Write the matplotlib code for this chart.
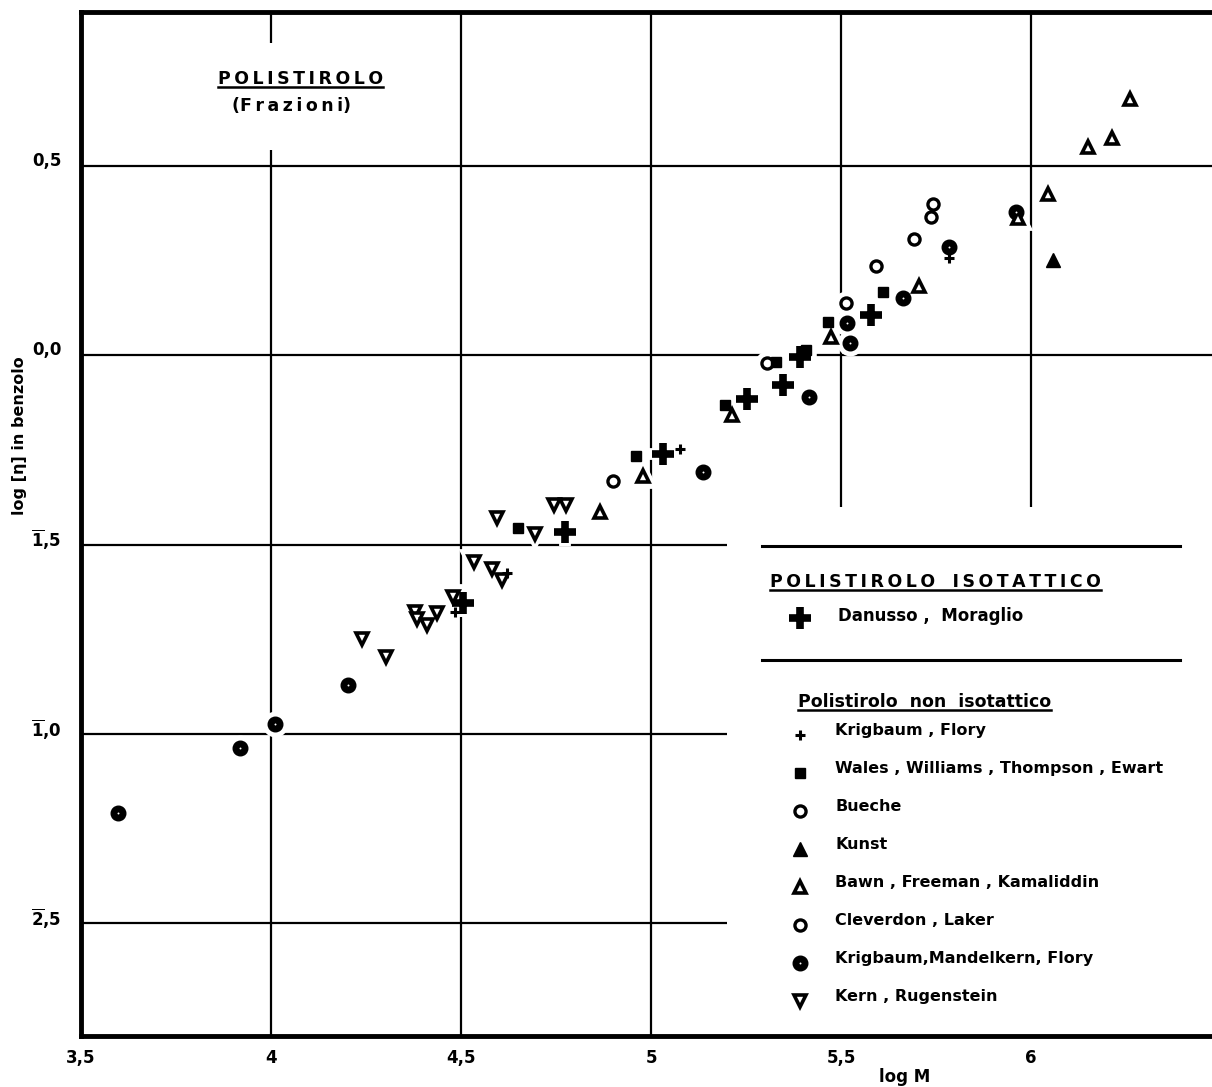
import matplotlib
matplotlib.use("Agg")
from matplotlib import pyplot as plt
from matplotlib.lines import Line2D
from matplotlib.transforms import ScaledTranslation

plt.rcParams["font.family"] = ["DejaVu Sans"]
plt.rcParams["font.weight"] = "bold"
plt.rcParams["mathtext.fontset"] = "dejavusans"
plt.rcParams["mathtext.default"] = "bf"

# log M / log [eta] pairs, one list per author group
danusso_x = [4.505, 4.774, 5.032, 5.253, 5.347, 5.392, 5.579]
danusso_y = [-0.654, -0.467, -0.261, -0.116, -0.079, -0.005, 0.106]

krig_flory_x = [4.484, 4.621, 5.076, 5.784]
krig_flory_y = [-0.678, -0.575, -0.248, 0.256]

wales_x = [4.650, 4.961, 5.195, 5.329, 5.408, 5.466, 5.611]
wales_y = [-0.456, -0.266, -0.132, -0.018, 0.013, 0.087, 0.166]

bueche_x = [5.692, 5.737, 5.742]
bueche_y = [0.306, 0.364, 0.398]

kunst_x = [6.058]
kunst_y = [0.251]

bawn_x = [4.866, 4.979, 5.213, 5.474, 5.705, 5.966, 6.045, 6.150, 6.213, 6.261]
bawn_y = [-0.414, -0.319, -0.158, 0.047, 0.182, 0.361, 0.425, 0.549, 0.573, 0.675]

cleverdon_x = [4.900, 5.305, 5.513, 5.592]
cleverdon_y = [-0.332, -0.021, 0.137, 0.235]

kmf_x = [3.597, 3.918, 4.011, 4.203, 5.137, 5.416, 5.516, 5.524, 5.663, 5.784, 5.961]
kmf_y = [-1.208, -1.037, -0.974, -0.871, -0.309, -0.111, 0.084, 0.032, 0.150, 0.285, 0.377]

kern_x = [4.239, 4.303, 4.379, 4.384, 4.411, 4.437, 4.479, 4.534, 4.582, 4.595, 4.608, 4.695, 4.745, 4.776]
kern_y = [-0.749, -0.797, -0.678, -0.697, -0.712, -0.681, -0.639, -0.546, -0.565, -0.430, -0.594, -0.472, -0.396, -0.396]

x_ticks = [3.5, 4.0, 4.5, 5.0, 5.5, 6.0]
x_ticklabels = ["3,5", "4", "4,5", "5", "5,5", "6"]
y_ticks = [0.5, 0.0, -0.5, -1.0, -1.5]
y_ticklabels = ["0,5", "0,0", r"$\overline{1}$,5", r"$\overline{1}$,0", r"$\overline{2}$,5"]

# marker styles
big_plus = dict(marker="+", ms=16, mew=5.5, color="k")
small_plus = dict(marker="+", ms=7, mew=2.2, color="k")
square = dict(marker="s", ms=7, color="k")
open_circle = dict(marker="o", ms=8, mew=2.4, mfc="white", mec="k")
filled_tri = dict(marker="^", ms=10, color="k")
open_tri = dict(marker="^", ms=9, mew=2.6, mfc="white", mec="k")
dot_circle = dict(marker="o", ms=10.5, color="k")
down_tri = dict(marker="v", ms=9, mew=2.6, mfc="white", mec="k")

series = [
    (kern_x, kern_y, down_tri),
    (kmf_x, kmf_y, dot_circle),
    (cleverdon_x, cleverdon_y, open_circle),
    (bawn_x, bawn_y, open_tri),
    (kunst_x, kunst_y, filled_tri),
    (bueche_x, bueche_y, open_circle),
    (wales_x, wales_y, square),
    (krig_flory_x, krig_flory_y, small_plus),
    (danusso_x, danusso_y, big_plus),
]


def halo(style):
    h = dict(style)
    h["color"] = "white"
    h["mfc"] = "white"
    h["mec"] = "white"
    h["ms"] = style["ms"] + 4
    h["mew"] = style.get("mew", 1) + 3
    return h


def draw_marker(ax, x, y, style, **kw):
    ax.plot(x, y, ls="none", zorder=3, **style, **kw)
    if style is dot_circle:
        ax.plot(x, y, ls="none", marker="o", ms=1.4, mew=0, color="white", zorder=3.1, **kw)


fig = plt.figure(figsize=(12.12, 10.87), dpi=100)
ax = fig.add_axes([0.0668, 0.0469, 0.9332, 0.9420])
ax.set_xlim(3.5, 6.476)
ax.set_ylim(-1.797, 0.905)

# grid drawn by hand: some lines stop short of the title and the legend block
ax.vlines([4.0], 0.823, 0.905, color="k", lw=1.6, zorder=1)
ax.vlines([4.0], -1.797, 0.541, color="k", lw=1.6, zorder=1)
ax.vlines([4.5, 5.0], -1.797, 0.905, color="k", lw=1.6, zorder=1)
ax.vlines([5.5, 6.0], -0.40, 0.905, color="k", lw=1.6, zorder=1)
ax.hlines([0.5, 0.0], 3.5, 6.476, color="k", lw=1.6, zorder=1)
ax.hlines([-0.5, -1.0, -1.5], 3.5, 5.2, color="k", lw=1.6, zorder=1)

# white halos first so grid lines break around the points
for xs, ys, st in series:
    ax.plot(xs, ys, ls="none", zorder=2.5, **halo(st))
for xs, ys, st in series:
    draw_marker(ax, xs, ys, st)

for side in ("left", "top", "bottom"):
    ax.spines[side].set_linewidth(3.5)
ax.spines["right"].set_visible(False)

ax.set_xticks(x_ticks)
ax.set_xticklabels(x_ticklabels)
ax.set_yticks(y_ticks)
ax.set_yticklabels(y_ticklabels)
ax.tick_params(length=0, labelsize=12)
ax.tick_params(axis="x", pad=9)
ax.tick_params(axis="y", pad=14)
for lab in ax.get_yticklabels():
    lab.set_transform(lab.get_transform() + ScaledTranslation(0, 0.07, fig.dpi_scale_trans))

fig.text(0.0165, 0.599, "log [η] in benzolo", rotation=90, ha="center", va="center", fontsize=11.5)
fig.text(0.7467, 0.009, "log M", ha="center", va="center", fontsize=12)

T = ax.transAxes


def underline(txt, lw=1.8):
    fig.canvas.draw()
    bb = txt.get_window_extent()
    inv = fig.transFigure.inverted()
    (x0, y0), (x1, _) = inv.transform([(bb.x0, bb.y0 + 1), (bb.x1, bb.y0)])
    fig.add_artist(Line2D([x0, x1], [y0, y0], color="k", lw=lw))


def spaced(s, sep="\u2009"):
    return sep.join(s)


title = ax.text(0.121, 0.9346, spaced("POLISTIROLO"), transform=T, ha="left", va="center", fontsize=12.5)
ax.text(0.1335, 0.908, "(" + spaced("Frazioni") + ")", transform=T, ha="left", va="center", fontsize=12.5)

# legend block
ax.plot([0.602, 0.972], [0.4785, 0.4785], transform=T, color="k", lw=2.2)
ax.plot([0.602, 0.972], [0.367, 0.367], transform=T, color="k", lw=2.2)

iso_head = ax.text(0.609, 0.443, spaced("POLISTIROLO") + "\u2003" + spaced("ISOTATTICO"),
                   transform=T, ha="left", va="center", fontsize=12.5)
draw_marker(ax, [0.6357], [0.408], big_plus, transform=T)
ax.text(0.669, 0.410, "Danusso ,  Moraglio", transform=T, ha="left", va="center", fontsize=12)

non_head = ax.text(0.634, 0.326, "Polistirolo  non  isotattico", transform=T,
                   ha="left", va="center", fontsize=12.5)

legend_rows = [
    (small_plus, "Krigbaum , Flory"),
    (square, "Wales , Williams , Thompson , Ewart"),
    (open_circle, "Bueche"),
    (filled_tri, "Kunst"),
    (open_tri, "Bawn , Freeman , Kamaliddin"),
    (open_circle, "Cleverdon , Laker"),
    (dot_circle, "Krigbaum,Mandelkern, Flory"),
    (down_tri, "Kern , Rugenstein"),
]
row_y0 = 0.2959
row_step = 0.0371
for i, (st, label) in enumerate(legend_rows):
    yy = row_y0 - i * row_step
    draw_marker(ax, [0.6357], [yy - 0.002], st, transform=T)
    ax.text(0.667, yy + 0.002, label, transform=T, ha="left", va="center", fontsize=11.5)

underline(title)
underline(iso_head)
underline(non_head)

fig.savefig("out.png", dpi=100)
